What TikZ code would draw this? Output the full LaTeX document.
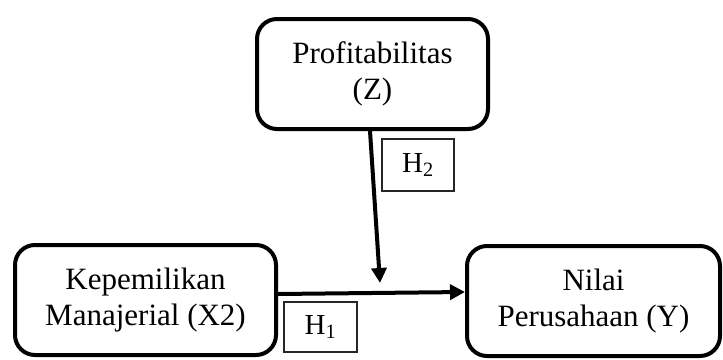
\documentclass[tikz,border=0pt]{standalone}
\usepackage{fontspec}
\setmainfont{Liberation Serif}
\usetikzlibrary{arrows.meta, positioning}

\begin{document}
\begin{tikzpicture}[
    x=1pt, y=-1pt,
    var/.style={rectangle, rounded corners=20pt, draw=black, line width=4pt, fill=white, minimum height=110pt, align=center, font=\fontsize{31}{36}\selectfont},
    hyp/.style={rectangle, draw=black!85, line width=1.8pt, minimum width=72pt, minimum height=52pt, inner sep=0pt, font=\fontsize{29}{34}\selectfont},
    arrow/.style={-{Triangle[length=15pt, width=15pt]}, line width=4pt, draw=black}
]
\useasboundingbox (0,0) rectangle (723,359);

% ==================== Variables ====================
\node[var, minimum width=231pt] (Profit) at (372.5, 74) {Profitabilitas\\(Z)};
\node[var, minimum width=261pt] (Manaj) at (145.5, 300) {Kepemilikan\\Manajerial (X2)};
\node[var, minimum width=253pt] (Nilai) at (593.5, 301) {Nilai\\Perusahaan (Y)};

% ==================== Hypotheses ====================
\node[hyp] (hypTwo) at (418, 165) {H\textsubscript{2}};
\node[hyp, minimum width=73pt, minimum height=50pt] (hypOne) at (320.5, 327) {H\textsubscript{1}};

% ==================== Connections ====================
\coordinate (modTip) at (380, 283);
\draw[arrow] ([xshift=-2.5pt]Profit.south) -- (modTip);
\draw[arrow] ([yshift=6pt]Manaj.east) -- ([yshift=9pt]Nilai.west);

\end{tikzpicture}
\end{document}
